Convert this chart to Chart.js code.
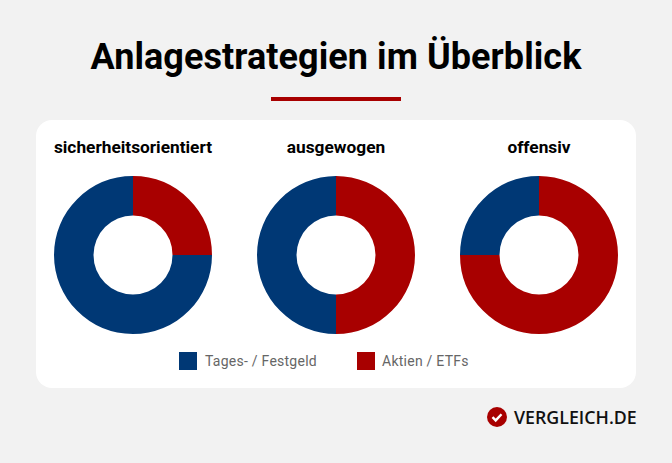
<!DOCTYPE html>
<html>
<head>
<meta charset="utf-8">
<script src="https://cdn.jsdelivr.net/npm/chart.js@4"></script>
<style>
  html, body { margin: 0; padding: 0; }
  body { width: 672px; height: 463px; background: #f2f2f2; position: relative; overflow: hidden; font-family: Roboto, sans-serif; }
  h1 { position: absolute; left: 0; right: 0; top: 35px; margin: 0; text-align: center; font-size: 36px; line-height: 44px; font-weight: 700; color: #000; letter-spacing: 0.07px; }
  .rule { position: absolute; left: 271px; top: 97px; width: 130px; height: 4px; background: #a80000; }
  .card { position: absolute; left: 36px; top: 120px; width: 600px; height: 268px; background: #fff; border-radius: 16px; }
  .label { position: absolute; top: 137px; width: 204px; text-align: center; font-size: 17.3px; line-height: 20px; font-weight: 700; color: #000; }
  .box { position: absolute; top: 176px; width: 158px; height: 158px; }
  .legend { position: absolute; top: 352px; height: 19px; line-height: 19px; font-size: 14px; color: #666; letter-spacing: 0.25px; }
  .legend i { position: absolute; left: 0; top: 0; width: 18px; height: 18px; }
  .brand { position: absolute; left: 514px; top: 406px; font-family: "Open Sans", sans-serif; font-size: 17.8px; line-height: 22px; font-weight: 600; color: #111; }
  .badge { position: absolute; left: 487px; top: 407px; width: 20px; height: 20px; }
</style>
</head>
<body>
<h1>Anlagestrategien im Überblick</h1>
<div class="rule"></div>
<div class="card"></div>
<div class="label" style="left:31px">sicherheitsorientiert</div>
<div class="label" style="left:234px">ausgewogen</div>
<div class="label" style="left:437px">offensiv</div>
<div class="box" style="left:54px"><canvas id="c0"></canvas></div>
<div class="box" style="left:257px"><canvas id="c1"></canvas></div>
<div class="box" style="left:460px"><canvas id="c2"></canvas></div>
<div class="legend" style="left:179px;padding-left:26px"><i style="background:#003875"></i>Tages- / Festgeld</div>
<div class="legend" style="left:357px;padding-left:25px"><i style="background:#a80000"></i>Aktien / ETFs</div>
<svg class="badge" viewBox="0 0 20 20"><circle cx="10" cy="10" r="10" fill="#a80000"/><path d="M5.5 10.2l3.2 3.2 5.8-6.2" fill="none" stroke="#fff" stroke-width="2.4"/></svg>
<div class="brand">VERGLEICH.DE</div>
<script>
const categories = ['Tages- / Festgeld', 'Aktien / ETFs'];
const colors = ['#003875', '#a80000'];
const conservative = [75, 25];
const balanced = [50, 50];
const offensive = [25, 75];

function drawDonut(id, values) {
  new Chart(document.getElementById(id), {
    type: 'doughnut',
    data: {
      labels: categories,
      datasets: [{
        data: values,
        backgroundColor: colors,
        borderWidth: 0
      }]
    },
    options: {
      responsive: true,
      maintainAspectRatio: true,
      animation: false,
      cutout: '50%',
      // red share has to end up starting at 12 o'clock
      rotation: (values[1] / 100) * 360,
      plugins: { legend: { display: false }, tooltip: { enabled: false } }
    }
  });
}

drawDonut('c0', conservative);
drawDonut('c1', balanced);
drawDonut('c2', offensive);
</script>
</body>
</html>
